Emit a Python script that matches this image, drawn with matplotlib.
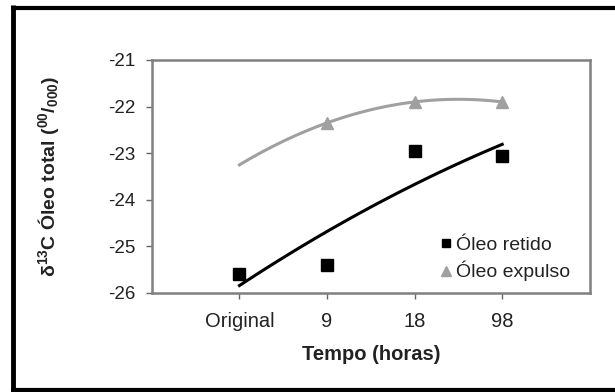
import numpy as np
import matplotlib.pyplot as plt
from matplotlib.lines import Line2D

plt.rcParams['font.family'] = ['Liberation Sans', 'DejaVu Sans']
plt.rcParams['mathtext.default'] = 'regular'
plt.rcParams['axes.unicode_minus'] = False

# categories on the x axis
tempo = ['Original', '9', '18', '98']
pos = [1, 2, 3, 4]

# delta 13C values
retido = [-25.6, -25.4, -22.95, -23.05]
expulso_pos = [2, 3, 4]
expulso = [-22.35, -21.9, -21.9]

fig = plt.figure(figsize=(6.15, 3.92), dpi=100)
ax = fig.add_axes([0.247, 0.2526, 0.712, 0.5944])

# 2nd order trendlines (like the spreadsheet ones)
xs = np.linspace(1, 4, 100)
c1 = np.polyfit(pos, retido, 2)
c2 = np.polyfit(expulso_pos, expulso, 2)
ax.plot(xs, np.polyval(c1, xs), color='black', lw=2.2)
ax.plot(xs, np.polyval(c2, xs), color='#a0a0a0', lw=2.2)

ax.plot(pos, retido, 's', color='black', ms=8, label='Óleo retido')
ax.plot(expulso_pos, expulso, '^', color='#a0a0a0', ms=8.5, label='Óleo expulso')

ax.set_xlim(0, 5)
ax.set_ylim(-26, -21)
ax.set_xticks(pos)
ax.set_xticklabels(tempo)
ax.set_yticks(range(-26, -20))
ax.tick_params(colors='#666666', labelcolor='#222222', length=4, width=1)
ax.tick_params(axis='y', labelsize=13.5, pad=8)
ax.tick_params(axis='x', labelsize=14.5, pad=10)
for s in ax.spines.values():
    s.set_color('#808080')
    s.set_linewidth(1.8)

ax.set_xlabel('Tempo (horas)', fontsize=14.5, fontweight='bold', color='#222222', labelpad=10)
ax.set_ylabel(r'$\delta^{13}$C Óleo total ($^{00}/_{000}$)', fontsize=14,
              fontweight='bold', color='#222222', labelpad=34)

ax.legend(loc='lower left', bbox_to_anchor=(0.655, 0.05), frameon=False, fontsize=14,
          handletextpad=0.2, handlelength=0.7, borderaxespad=0, borderpad=0,
          labelspacing=0.35, labelcolor='#222222', markerscale=0.8)

# outer frame (left, top, bottom)
W, H = 615, 392
fig.add_artist(Line2D([13 / W, 13 / W], [1 - 5 / H, 1 - 391 / H], color='black', lw=3.5,
                      transform=fig.transFigure, solid_capstyle='butt'))
fig.add_artist(Line2D([11 / W, 1], [1 - 7.5 / H, 1 - 7.5 / H], color='black', lw=3,
                      transform=fig.transFigure, solid_capstyle='butt'))
fig.add_artist(Line2D([11 / W, 1], [1 - 389.5 / H, 1 - 389.5 / H], color='black', lw=3,
                      transform=fig.transFigure, solid_capstyle='butt'))

fig.savefig('out.png', dpi=100)
